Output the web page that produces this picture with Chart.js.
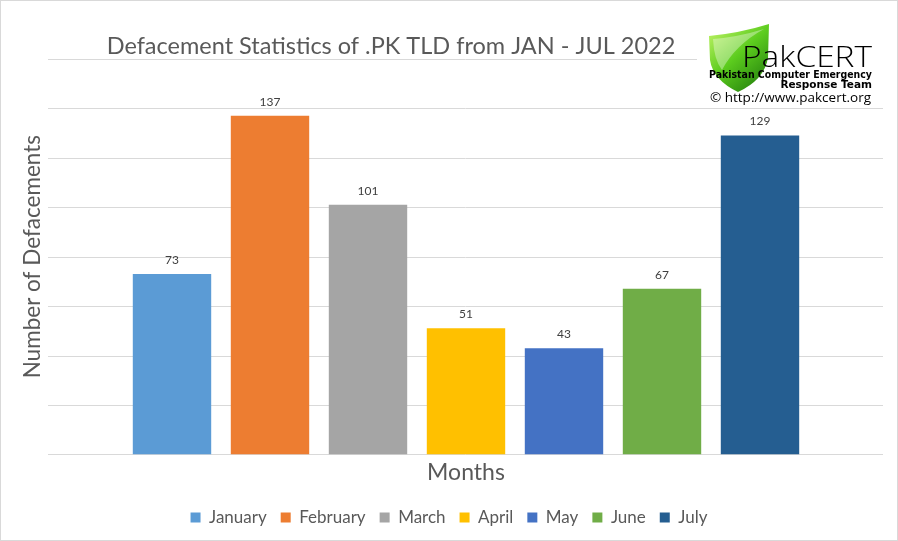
<!DOCTYPE html>
<html>
<head>
<meta charset="utf-8">
<script src="https://cdn.jsdelivr.net/npm/chart.js@4"></script>
<style>
  html, body { margin: 0; padding: 0; background: #fff; }
  #wrap { width: 898px; height: 541px; position: relative; }
</style>
</head>
<body>
<div id="wrap"><canvas id="defChart" width="898" height="541"></canvas></div>
<script>
// chart data
const months = ['January', 'February', 'March', 'April', 'May', 'June', 'July'];
const defacements = [73, 137, 101, 51, 43, 67, 129];
const barColors = ['#5b9bd5', '#ed7d31', '#a5a5a5', '#ffc000', '#4472c4', '#70ad47', '#255e91'];
const yTicks = [0, 20, 40, 60, 80, 100, 120, 140, 160];

const chartTitle = 'Defacement Statistics of .PK TLD from JAN - JUL 2022';
const FONT = 'Lato, "Open Sans", sans-serif';
const GREY = '#595959';

// one dataset per month so the legend lists every month
const datasets = months.map((m, i) => ({
    label: m,
    data: months.map((_, j) => (j === i ? defacements[i] : null)),
    backgroundColor: barColors[i],
    borderWidth: 0,
    grouped: false,
    categoryPercentage: 1,
    barPercentage: 0.8
}));

// horizontal grid lines run wider than the bars, like the Excel original
const wideGrid = {
    id: 'wideGrid',
    beforeDatasetsDraw(chart) {
        const ctx = chart.ctx;
        const y = chart.scales.y;
        ctx.save();
        ctx.strokeStyle = '#d9d9d9';
        ctx.lineWidth = 1;
        yTicks.forEach(v => {
            const py = Math.round(y.getPixelForValue(v)) + 0.5;
            ctx.beginPath();
            ctx.moveTo(48, py);
            ctx.lineTo(883, py);
            ctx.stroke();
        });
        ctx.restore();
    }
};

const valueLabels = {
    id: 'valueLabels',
    afterDatasetsDraw(chart) {
        const ctx = chart.ctx;
        ctx.save();
        ctx.font = '12px ' + FONT;
        ctx.fillStyle = '#404040';
        ctx.textAlign = 'center';
        ctx.textBaseline = 'middle';
        chart.data.datasets.forEach((ds, i) => {
            const bar = chart.getDatasetMeta(i).data[i];
            if (bar) ctx.fillText(String(defacements[i]), bar.x, bar.y - 14);
        });
        ctx.restore();
    }
};

const decorations = {
    id: 'decorations',
    afterDraw(chart) {
        const ctx = chart.ctx;
        ctx.save();
        // outer frame
        ctx.strokeStyle = '#d9d9d9';
        ctx.lineWidth = 1;
        ctx.strokeRect(0.5, 0.5, chart.width - 1, chart.height - 1);

        // title
        ctx.fillStyle = GREY;
        ctx.font = '23.5px ' + FONT;
        ctx.textAlign = 'center';
        ctx.textBaseline = 'middle';
        ctx.fillText(chartTitle, 391, 46);

        // logo block
        ctx.fillStyle = '#fff';
        ctx.fillRect(697, 20, 189, 88);

        // shield
        const g = ctx.createLinearGradient(712, 30, 765, 90);
        g.addColorStop(0, '#b8f060');
        g.addColorStop(0.45, '#5ccc1e');
        g.addColorStop(1, '#1f7a0c');
        ctx.fillStyle = g;
        ctx.beginPath();
        ctx.moveTo(709, 36);
        ctx.quadraticCurveTo(740, 33, 769, 24);
        ctx.lineTo(768, 58);
        ctx.quadraticCurveTo(764, 80, 738, 92);
        ctx.quadraticCurveTo(713, 80, 710, 60);
        ctx.closePath();
        ctx.fill();
        ctx.fillStyle = 'rgba(255,255,255,0.35)';
        ctx.beginPath();
        ctx.moveTo(713, 39);
        ctx.quadraticCurveTo(738, 37, 764, 29);
        ctx.quadraticCurveTo(735, 45, 722, 70);
        ctx.quadraticCurveTo(714, 60, 713, 39);
        ctx.fill();

        // PakCERT wordmark
        ctx.fillStyle = '#000';
        ctx.textAlign = 'left';
        ctx.textBaseline = 'alphabetic';
        ctx.font = '300 30px "Open Sans", sans-serif';
        const wm = ctx.measureText('PakCERT').width;
        ctx.save();
        ctx.translate(742, 67);
        ctx.scale(130 / wm, 1);
        ctx.fillText('PakCERT', 0, 0);
        ctx.restore();

        ctx.font = 'bold 10.5px "DejaVu Sans", sans-serif';
        ctx.textBaseline = 'middle';
        ctx.textAlign = 'left';
        ctx.fillText('Pakistan Computer Emergency', 709, 75, 163);
        ctx.textAlign = 'right';
        ctx.fillText('Response Team', 872, 85.5, 95);

        ctx.font = '13.5px "Open Sans", sans-serif';
        ctx.textAlign = 'right';
        ctx.fillText('\u00a9 http://www.pakcert.org', 871, 98);
        ctx.restore();
    }
};

new Chart(document.getElementById('defChart'), {
    type: 'bar',
    data: { labels: months, datasets },
    options: {
        responsive: false,
        animation: false,
        layout: { padding: { top: 59, right: 0, bottom: 5, left: 0 } },
        scales: {
            x: {
                ticks: { display: false },
                grid: { display: false, drawTicks: false },
                border: { display: false },
                title: {
                    display: true,
                    text: 'Months',
                    color: GREY,
                    font: { family: FONT, size: 23 },
                    padding: { top: 4, bottom: 9 }
                }
            },
            y: {
                min: 0,
                max: 160,
                ticks: { display: false, stepSize: 20 },
                grid: { display: false, drawTicks: false },
                border: { display: false },
                title: {
                    display: true,
                    text: 'Number of Defacements',
                    color: GREY,
                    font: { family: FONT, size: 22.5 },
                    padding: { top: 19.5, bottom: 76.5 }
                }
            },
            // empty right axis: only reserves space so bars sit like the original
            yRight: {
                position: 'right',
                ticks: { display: false },
                grid: { display: false, drawTicks: false },
                border: { display: false },
                title: {
                    display: true,
                    text: '',
                    font: { size: 20 },
                    padding: { top: 0, bottom: 65 }
                }
            }
        },
        plugins: {
            title: { display: false },
            tooltip: { enabled: false },
            legend: {
                position: 'bottom',
                labels: {
                    color: GREY,
                    font: { family: FONT, size: 17 },
                    boxWidth: 10,
                    boxHeight: 10,
                    padding: 14
                }
            }
        }
    },
    plugins: [wideGrid, valueLabels, decorations]
});
</script>
</body>
</html>
